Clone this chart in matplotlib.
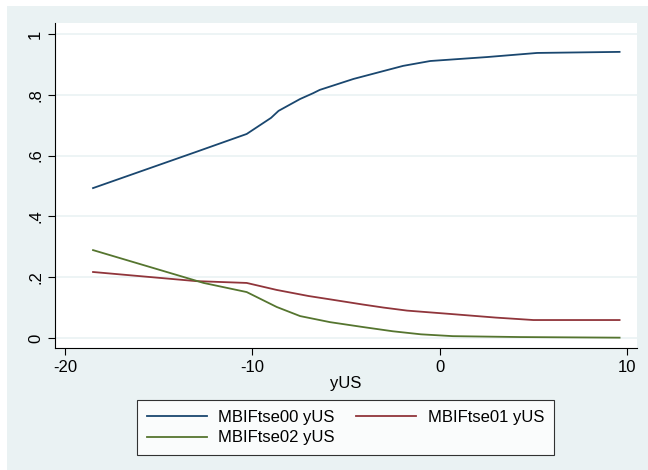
import matplotlib.pyplot as plt
from matplotlib.patches import Rectangle

plt.rcParams['font.family'] = ['Liberation Sans', 'DejaVu Sans']
plt.rcParams['axes.unicode_minus'] = False

# valores
x00 = [-18.5, -13.0, -10.3, -9.0, -8.6, -7.45, -6.76, -6.4, -4.6, -3.0, -1.95, -0.5, 2.53, 5.2, 9.6]
y00 = [0.493, 0.612, 0.671, 0.724, 0.747, 0.786, 0.805, 0.816, 0.852, 0.878, 0.895, 0.911, 0.924, 0.9375, 0.941]

x01 = [-18.5, -13.0, -10.3, -8.7, -7.0, -5.85, -4.1, -3.0, -1.74, 0.56, 3.0, 5.0, 9.6]
y01 = [0.217, 0.187, 0.181, 0.158, 0.138, 0.127, 0.110, 0.100, 0.090, 0.079, 0.067, 0.059, 0.059]

x02 = [-18.5, -12.6, -10.3, -8.7, -7.45, -5.85, -4.1, -2.5, -1.0, 0.7, 4.3, 9.6]
y02 = [0.289, 0.181, 0.151, 0.102, 0.072, 0.052, 0.036, 0.022, 0.012, 0.006, 0.003, 0.001]

labels = ['MBIFtse00 yUS', 'MBIFtse01 yUS', 'MBIFtse02 yUS']
colors = ['#1a476f', '#90353b', '#55752f']
bg = '#eaf2f3'

fig = plt.figure(figsize=(6.48, 4.70), dpi=100, facecolor='white')
fig.patches.append(Rectangle((7/648, 0), 1, 1 - 6/470, transform=fig.transFigure,
                             facecolor=bg, edgecolor='none', zorder=-10))

ax = fig.add_axes([55/648, 122/470, 582/648, 325/470])
ax.set_facecolor('white')
for s in ['top', 'right']:
    ax.spines[s].set_visible(False)
for s in ['left', 'bottom']:
    ax.spines[s].set_color('black')
    ax.spines[s].set_linewidth(0.8)

l0, = ax.plot(x00, y00, color=colors[0], lw=1.3)
l1, = ax.plot(x01, y01, color=colors[1], lw=1.3)
l2, = ax.plot(x02, y02, color=colors[2], lw=1.3)

ax.set_xlim(-20.53, 10.53)
ax.set_ylim(-0.033, 1.036)
ax.set_xticks([-20, -10, 0, 10])
ax.set_yticks([0, 0.2, 0.4, 0.6, 0.8, 1.0])
ax.set_yticklabels(['0', '.2', '.4', '.6', '.8', '1'], rotation=90, va='center')
ax.tick_params(labelsize=12, length=5, width=0.8, color='black')
ax.grid(axis='y', color=bg, lw=1.2)
ax.set_axisbelow(True)
ax.set_xlabel('yUS', fontsize=12, labelpad=1)

# orden por filas como en Stata
leg = fig.legend([l0, l2, l1], [labels[0], labels[2], labels[1]], ncol=2, loc='center',
                 bbox_to_anchor=(345.5/648, 42.5/470), fontsize=12,
                 frameon=True, fancybox=False, edgecolor='black',
                 handlelength=3.6, columnspacing=1.3, borderpad=0.55,
                 labelspacing=0.35, handletextpad=0.7, borderaxespad=0)
leg.get_frame().set_linewidth(0.8)

plt.savefig('out.png', dpi=100, facecolor=fig.get_facecolor())
